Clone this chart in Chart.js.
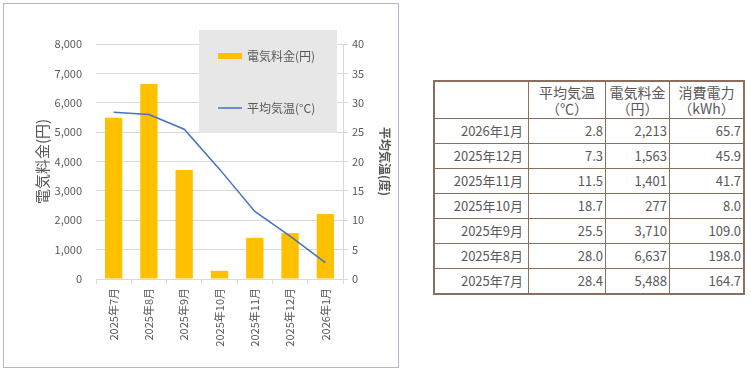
<!DOCTYPE html>
<html>
<head>
<meta charset="utf-8">
<script src="https://cdn.jsdelivr.net/npm/chart.js@4.4.1/dist/chart.umd.min.js"></script>
<style>
body{margin:0;background:#fff;font-family:"Noto Sans CJK JP",sans-serif;}
#box{position:absolute;left:3px;top:3px;width:394px;height:363px;border:1px solid #b3b7ca;}
#tbl{position:absolute;left:433px;top:80px;border-collapse:collapse;table-layout:fixed;width:305px;border:2px solid #8b6f5c;color:#595959;font-size:13px;}
#tbl td,#tbl th{border:1px solid #8b6f5c;padding:0 2px 0 0;text-align:right;height:24px;line-height:16px;white-space:nowrap;}
#tbl th{font-weight:normal;font-size:14px;text-align:center;height:36px;padding:0;}
#tbl td.m{padding-right:5px;}
</style>
</head>
<body>
<div id="box"><canvas id="myChart"></canvas></div>
<table id="tbl"></table>
<script>
var months=['2025年7月','2025年8月','2025年9月','2025年10月','2025年11月','2025年12月','2026年1月'];
var avgTemp=[28.4,28.0,25.5,18.7,11.5,7.3,2.8];
var elecCost=[5488,6637,3710,277,1401,1563,2213];
var usageKwh=[164.7,198.0,109.0,8.0,41.7,45.9,65.7];
var headers=[['平均気温','（℃）'],['電気料金','（円）'],['消費電力','（kWh）']];

// table, newest month first
var tbl=document.getElementById('tbl');
var html='<tr><th style="width:93px"></th>';
var widths=[76,63,73];
for(let i=0;i<headers.length;i++){
    html+='<th style="width:'+widths[i]+'px">'+headers[i][0]+'<br>'+headers[i][1]+'</th>';
}
html+='</tr>';
for(let i=months.length-1;i>=0;i--){
    html+='<tr><td class="m">'+months[i]+'</td><td>'+avgTemp[i].toFixed(1)+'</td><td>'
        +elecCost[i].toLocaleString('en-US')+'</td><td>'+usageKwh[i].toFixed(1)+'</td></tr>';
}
tbl.innerHTML=html;

var fontName='"Noto Sans CJK JP", sans-serif';
var grey='#595959';

// grey legend box sitting on the plot
var legendBox={
    id:'legendBox',
    beforeDatasetsDraw(chart){
        const ctx=chart.ctx;
        const ds=chart.data.datasets;
        ctx.save();
        ctx.fillStyle='#e7e7e7';
        ctx.fillRect(195,26,138,103);
        ctx.font='12px '+fontName;
        ctx.textBaseline='middle';
        ctx.fillStyle=ds[1].backgroundColor;
        ctx.fillRect(214,49,24,6);
        ctx.fillStyle=grey;
        ctx.fillText(ds[1].label,243,52);
        ctx.strokeStyle=ds[0].borderColor;
        ctx.lineWidth=1.5;
        ctx.beginPath();
        ctx.moveTo(214,104);
        ctx.lineTo(238,104);
        ctx.stroke();
        ctx.fillText(ds[0].label,243,104);
        ctx.restore();
    }
};

const ctx=document.getElementById('myChart').getContext('2d');
const myChart=new Chart(ctx,{
    type:'bar',
    data:{
        labels:months,
        datasets:[{
            type:'line',
            label:'平均気温(°C)',
            data:avgTemp,
            yAxisID:'y1',
            borderColor:'#4472C4',
            borderWidth:1.5,
            pointRadius:0,
            tension:0,
            order:0
        },{
            type:'bar',
            label:'電気料金(円)',
            data:elecCost,
            yAxisID:'y',
            backgroundColor:'#FFC000',
            barPercentage:0.49,
            categoryPercentage:1,
            order:1
        }]
    },
    options:{
        responsive:true,
        maintainAspectRatio:false,
        animation:false,
        locale:'en-US',
        layout:{padding:{top:40,left:0,right:0,bottom:0}},
        plugins:{legend:{display:false},tooltip:{enabled:false}},
        scales:{
            x:{
                grid:{offset:true,drawOnChartArea:false,drawTicks:true,tickLength:5,color:'#d9d9d9'},
                border:{color:'#d9d9d9'},
                ticks:{minRotation:90,maxRotation:90,padding:4,color:grey,font:{family:fontName,size:11}},
                afterFit(s){s.height=88;}
            },
            y:{
                position:'left',
                min:0,max:8000,
                ticks:{stepSize:1000,padding:14,color:grey,font:{family:fontName,size:11}},
                grid:{color:'#d9d9d9',drawTicks:false},
                border:{display:false},
                title:{display:true,text:'電気料金(円)',color:grey,font:{family:fontName,size:15},padding:{top:29,bottom:0}},
                afterFit(s){s.width=92;}
            },
            y1:{
                position:'right',
                min:0,max:40,
                ticks:{stepSize:5,padding:4,color:grey,font:{family:fontName,size:11}},
                grid:{drawOnChartArea:false,drawTicks:true,tickLength:5,color:'#d9d9d9'},
                border:{color:'#d9d9d9'},
                title:{display:true,text:'平均気温(度)',color:grey,font:{family:fontName,size:12,weight:'bold'},padding:{top:6,bottom:0}},
                afterFit(s){s.width=55;}
            }
        }
    },
    plugins:[legendBox]
});
</script>
</body>
</html>
